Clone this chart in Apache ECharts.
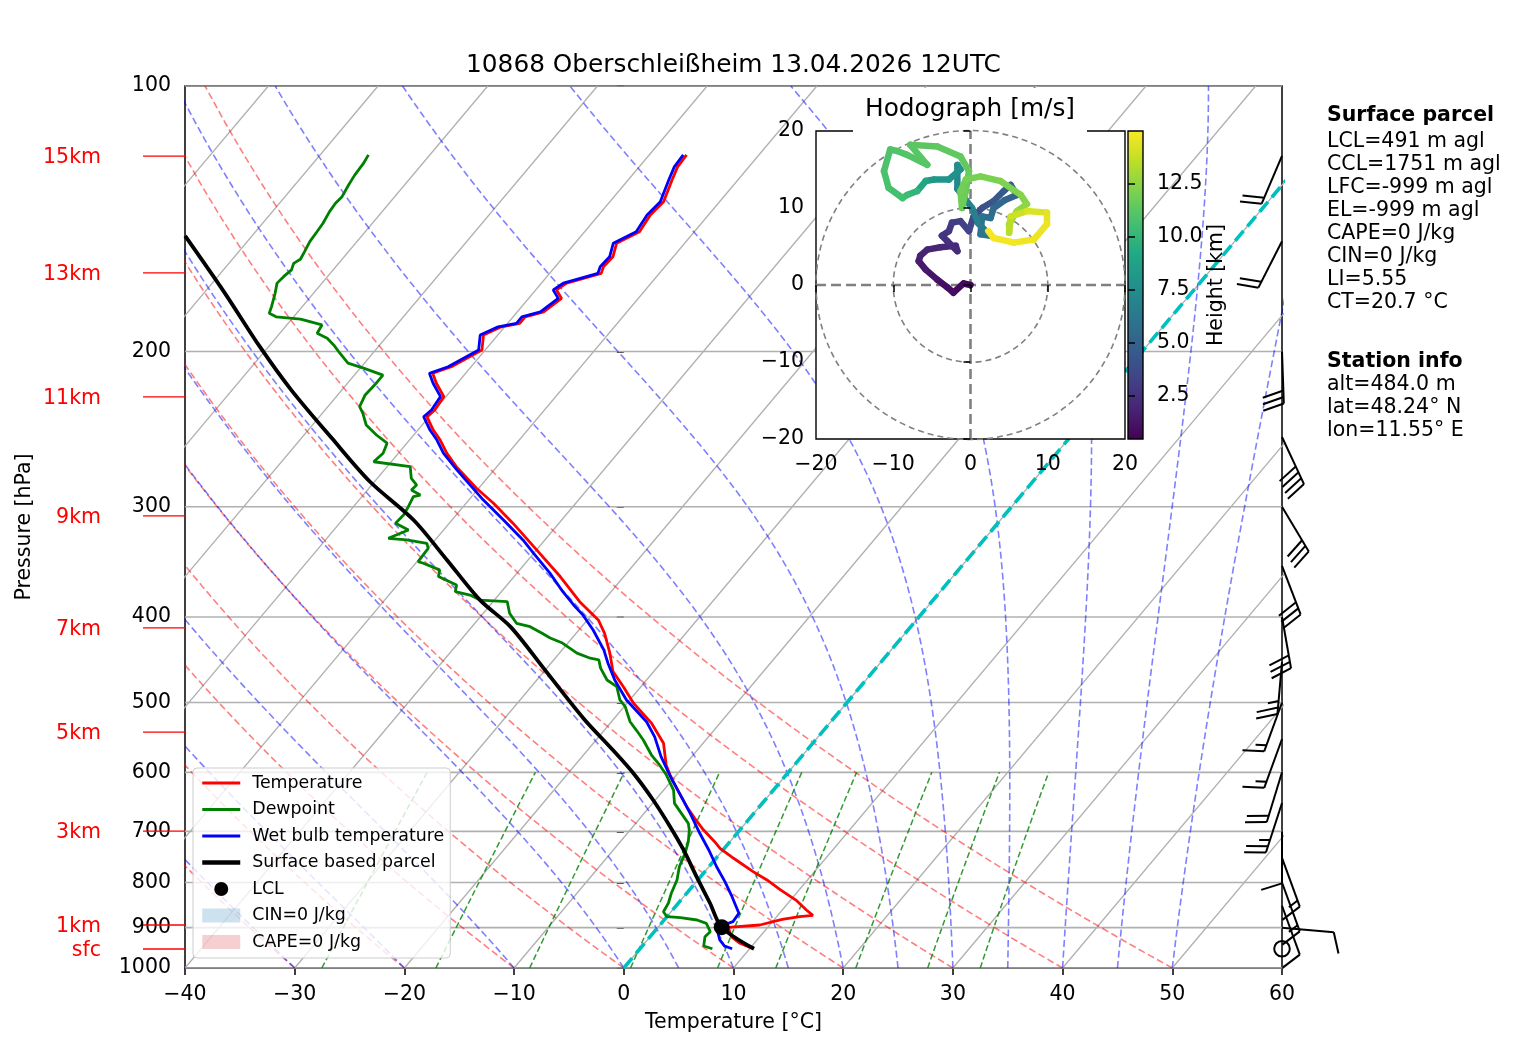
<!DOCTYPE html>
<html>
<head>
<meta charset="utf-8">
<script src="https://cdn.jsdelivr.net/npm/echarts@6/dist/echarts.min.js"></script>
<style>html,body{margin:0;padding:0;background:#fff}#main{width:1517px;height:1054px}</style>
</head>
<body>
<div id="main"></div>
<script>
/* Skew-T log-p sounding with hodograph inset */
var FONT = 'DejaVu Sans';
var chartDom = document.getElementById('main');
var myChart = echarts.init(chartDom);

// profiles: [pressure hPa, value degC]
var temperature = [[951,10.3],[937.6,8.7],[921.5,7.4],[899.2,6.4],[893.8,9.1],[880.6,10.7],[874.7,12.1],[871.5,13.2],[859.5,12.2],[838.8,10.6],[815.6,8.3],[794.6,6.3],[777.6,4.4],[750.9,1.6],[731.6,-0.4],[719.1,-1.4],[697.6,-3.3],[676.7,-5.0],[659.2,-6.4],[634.0,-8.3],[609.5,-10.2],[588.6,-11.7],[556.2,-13.6],[528.1,-16.2],[501.0,-19.4],[479.8,-21.6],[461.3,-23.7],[439.6,-25.4],[417.4,-27.4],[403.1,-29.0],[384.3,-32.1],[359.9,-35.8],[332.9,-40.5],[313.1,-44.2],[297.2,-47.5],[285.8,-50.2],[270.1,-53.7],[260.8,-55.6],[252.0,-57.2],[245.5,-58.6],[237.1,-60.2],[233.0,-60.0],[225.0,-60.2],[217.3,-61.9],[211.7,-63.0],[208.1,-61.8],[199.2,-60.3],[191.6,-61.3],[187.5,-60.3],[185.8,-58.9],[182.7,-58.9],[180.3,-57.6],[174.1,-57.0],[170.3,-58.1],[167.3,-57.7],[163.1,-55.3],[160.3,-55.6],[156.2,-55.5],[150.8,-56.2],[146.3,-55.0],[140.0,-55.3],[135.3,-55.1],[127.8,-56.0],[123.5,-56.5],[119.7,-56.6]];

var dewpoint = [[951,6.6],[944.2,5.6],[921.5,5.0],[909.6,5.1],[889.9,4.1],[882.2,3.0],[876.9,1.3],[874.7,0.0],[863.4,-0.7],[844.5,-0.9],[822.7,-1.4],[794.6,-1.9],[767.7,-2.7],[741.3,-3.2],[719.1,-3.8],[697.6,-4.6],[685.6,-5.2],[667.9,-6.6],[650.6,-8.0],[628.5,-9.1],[604.3,-10.9],[588.6,-12.3],[573.5,-13.8],[551.4,-15.7],[537.3,-17.1],[525.8,-18.3],[505.5,-19.9],[496.7,-20.9],[479.8,-22.2],[471.5,-23.6],[457.1,-25.1],[447.3,-25.9],[445.4,-26.8],[439.6,-28.4],[428.1,-30.5],[422.6,-32.0],[417.4,-33.1],[410.2,-34.7],[406.6,-36.2],[396.1,-37.6],[384.3,-38.7],[382.7,-41.3],[377.7,-42.6],[374.4,-44.2],[367.9,-44.6],[359.9,-46.9],[353.7,-47.3],[347.6,-49.3],[346.1,-49.9],[334.3,-50.0],[330.0,-50.5],[327.1,-52.6],[325.7,-54.4],[318.7,-53.2],[313.1,-54.9],[306.4,-54.8],[299.9,-55.0],[292.2,-55.3],[290.9,-54.8],[287.1,-56.0],[283.4,-55.9],[278.5,-56.9],[270.1,-57.9],[266.7,-61.6],[260.8,-61.4],[254.1,-61.8],[248.7,-63.4],[242.3,-65.1],[235.0,-66.3],[231.0,-67.1],[224.0,-67.5],[218.3,-67.4],[212.7,-67.4],[208.9,-69.7],[206.2,-71.5],[200.9,-73.0],[196.6,-74.2],[193.2,-75.3],[190.7,-76.6],[186.6,-76.8],[183.8,-79.2],[182.7,-81.6],[181.0,-82.5],[177.9,-82.8],[171.8,-83.5],[167.3,-84.1],[164.5,-84.0],[161.6,-83.8],[158.9,-84.1],[157.2,-83.8],[154.2,-84.0],[150.1,-84.3],[146.3,-84.4],[143.1,-84.5],[138.8,-84.8],[135.8,-84.9],[133.5,-84.8],[129.5,-85.1],[126.2,-85.3],[122.4,-85.4],[119.7,-85.6]];

var wetbulb = [[951,8.4],[944.2,7.5],[929.5,6.6],[905.6,5.6],[893.8,5.8],[886.0,6.4],[867.0,6.3],[830.1,4.4],[798.2,2.6],[767.7,0.7],[734.8,-1.3],[703.5,-3.4],[667.9,-5.8],[634.0,-8.3],[604.3,-10.6],[576.0,-12.8],[546.9,-14.9],[525.8,-16.8],[496.7,-20.3],[471.5,-22.9],[451.3,-24.8],[435.9,-26.2],[413.8,-28.7],[397.8,-30.8],[387.6,-32.4],[374.4,-34.4],[356.7,-37.0],[338.7,-40.0],[327.1,-42.0],[310.5,-45.3],[294.6,-48.7],[272.4,-53.4],[260.8,-55.9],[252.0,-57.5],[245.5,-58.9],[237.1,-60.5],[233.0,-60.3],[225.0,-60.5],[217.3,-62.2],[211.7,-63.3],[208.1,-62.1],[199.2,-60.6],[191.6,-61.6],[187.5,-60.6],[185.8,-59.2],[182.7,-59.2],[180.3,-57.9],[174.1,-57.3],[170.3,-58.4],[167.3,-58.0],[163.1,-55.6],[160.3,-55.9],[156.2,-55.8],[150.8,-56.5],[146.3,-55.3],[140.0,-55.6],[135.3,-55.4],[127.8,-56.3],[123.5,-56.8],[119.7,-56.9]];

var parcel = [[951,10.4],[899,5.8],[844.5,2.9],[788.1,-0.35],[734.8,-3.6],[691.6,-6.6],[645.0,-10.2],[601.5,-14.05],[566.1,-17.7],[521.2,-22.8],[457.1,-30.3],[410.2,-36.5],[382.7,-41.3],[344.6,-47.4],[310.5,-53.5],[281.0,-60.4],[250.9,-67.2],[221.2,-74.6],[197.5,-80.8],[171.7,-88.1],[147.9,-96.1]];

var lcl = [[899,5.8]];

// wind barbs: [pressure hPa, direction deg, speed kt]
var barbs = [[951,0,0],[900,95,10],[850,160,10],[800,160,15],[750,160,15],[700,180,10],[650,198,25],[600,197,20],[550,200,15],[500,200,15],[450,185,25],[400,170,30],[350,159,30],[300,149,30],[250,155,40],[200,178,30],[150,207,20],[120,203,20]];

// hodograph: [u m/s, v m/s, height km]
var hodograph = [[0,0,0.5],[-0.9,0.2,0.7],[-2.2,-1.0,0.9],[-3.0,-0.3,1.0],[-4.3,0.7,1.2],[-5.8,2.0,1.4],[-6.7,3.1,1.6],[-6.5,3.8,1.7],[-5.6,4.6,1.9],[-3.9,4.9,2.0],[-1.9,5.1,2.2],[-1.7,4.4,2.3],[-3.0,5.7,2.4],[-3.7,6.4,2.6],[-2.8,7.0,2.8],[-2.4,8.1,3.0],[-1.3,8.3,3.2],[-0.2,7.0,3.4],[0.4,8.9,3.7],[1.5,10.0,4.0],[3.0,10.9,4.3],[4.3,12.2,4.6],[5.2,13.0,4.8],[6.0,11.7,5.0],[4.4,11.0,5.2],[3.0,10.0,5.4],[2.6,8.7,5.6],[1.5,8.9,5.8],[1.3,6.6,6.0],[2.6,6.4,6.2],[1.0,8.0,6.5],[0.2,10.0,6.8],[-1.7,12.5,7.1],[-1.7,15.6,7.4],[-1.3,15.0,7.6],[-2.8,13.7,7.8],[-4.7,13.7,8.1],[-5.8,13.5,8.4],[-6.9,12.2,9.6],[-8.2,11.7,10.2],[-8.8,11.3,10.5],[-10.6,12.6,10.7],[-11.2,14.8,10.8],[-10.4,17.6,10.9],[-9.5,17.4,11.0],[-8.2,16.9,11.0],[-5.6,15.6,11.1],[-7.8,18.2,11.2],[-4.3,18.0,11.3],[-1.3,16.7,11.4],[-0.2,14.8,11.5],[-0.6,12.2,11.6],[-1.1,10.0,11.7],[-1.3,12.2,11.8],[-0.6,13.7,11.9],[1.3,14.1,12.0],[3.9,13.5,12.1],[6.5,11.7,12.2],[7.3,10.5,12.4],[6.0,9.6,12.7],[5.0,7.9,13.0],[5.0,6.8,13.3],[5.2,8.9,13.6],[7.3,9.6,14.0],[9.9,9.4,14.3],[9.9,7.9,14.5],[8.2,5.9,14.6],[5.6,5.5,14.7],[3.0,6.1,14.8],[2.3,7.0,14.9]];
var heightMin = 0.48, heightMax = 14.96;

// reference lines
var isothermT = [-100,-90,-80,-70,-60,-50,-40,-30,-20,-10,0,10,20,30,40,50,60];
var isobarP = [100,200,300,400,500,600,700,800,900,1000];
var dryAdiabatT0 = [-40,-30,-20,-10,0,10,20,30,40,50];
var moistAdiabatT0 = [-40,-30,-20,-10,0,5,10,15,20,25,30,35,40,45,50];
var mixingRatios = [0.0004,0.001,0.002,0.004,0.007,0.01,0.016,0.024,0.032];
var hodoRings = [10, 20];
var kmLevels = [['sfc',951.6],['1km',893.8],['3km',699.4],['5km',540.1],['7km',411.6],['9km',307.2],['11km',225.2],['13km',162.9],['15km',120.1]];
var colorbarTicks = [2.5,5,7.5,10,12.5];

var parcelText = ['LCL=491 m agl','CCL=1751 m agl','LFC=-999 m agl','EL=-999 m agl','CAPE=0 J/kg','CIN=0 J/kg','LI=5.55','CT=20.7 \u00b0C'];
var stationText = ['alt=484.0 m','lat=48.24\u00b0 N','lon=11.55\u00b0 E'];

var viridis = ['#440154','#482475','#414487','#355f8d','#2a788e','#21918c','#22a884','#44bf70','#7ad151','#bddf26','#fde725'];

// skew transform
var SKEW = 67.6;
function sx(t, p) { return t + SKEW * Math.log10(1000 / p); }
function ly(p) { return Math.log10(p); }
function minus(v) { return v < 0 ? '\u2212' + Math.abs(v) : String(v); }

var Rd = 287.04749, Cp = 1004.6662, Lv = 2.50084e6, EPS = 0.621957;
function satVap(tK) { return 6.112 * Math.exp(17.67 * (tK - 273.15) / (tK - 29.65)); }
function moistLapse(p, tK) {
  var es = satVap(tK);
  var rs = EPS * es / (p - es);
  return (Rd * tK + Lv * rs) / (Cp + Lv * Lv * rs * EPS / (Rd * tK * tK)) / p;
}

function refLine(pts, color, width, dash, z) {
  return {
    type: 'line', xAxisIndex: 0, yAxisIndex: 0, data: pts, symbol: 'none', silent: true,
    lineStyle: { color: color, width: width, type: dash }, z: z
  };
}
function profile(rows) {
  return rows.map(function (d) { return [sx(d[1], d[0]), ly(d[0])]; });
}

var series = [];

isothermT.forEach(function (t) {
  series.push(refLine([[sx(t, 1000), ly(1000)], [sx(t, 100), ly(100)]], '#b0b0b0', 1.3, 'solid', 1));
});
isobarP.forEach(function (p) {
  series.push(refLine([[-40, ly(p)], [60, ly(p)]], '#b0b0b0', 1.6, 'solid', 1));
});
dryAdiabatT0.forEach(function (t0) {
  var pts = [];
  for (var p = 1000; p >= 100; p -= 10) {
    var t = (t0 + 273.15) * Math.pow(p / 1000, Rd / Cp) - 273.15;
    pts.push([sx(t, p), ly(p)]);
  }
  series.push(refLine(pts, 'rgba(255,0,0,0.5)', 1.6, [7, 3.5], 1));
});
moistAdiabatT0.forEach(function (t0) {
  var tK = t0 + 273.15, p = 1000, dp = -5;
  var pts = [[sx(t0, p), ly(p)]];
  while (p > 100.001) {
    var k1 = moistLapse(p, tK);
    var k2 = moistLapse(p + dp / 2, tK + dp / 2 * k1);
    var k3 = moistLapse(p + dp / 2, tK + dp / 2 * k2);
    var k4 = moistLapse(p + dp, tK + dp * k3);
    tK += dp / 6 * (k1 + 2 * k2 + 2 * k3 + k4);
    p += dp;
    pts.push([sx(tK - 273.15, p), ly(p)]);
  }
  series.push(refLine(pts, 'rgba(0,0,255,0.5)', 1.6, [7, 3.5], 1));
});
mixingRatios.forEach(function (w) {
  var pts = [];
  for (var p = 1000; p >= 600; p -= 10) {
    var e = p * w / (EPS + w);
    var l = Math.log(e / 6.112);
    var td = 243.5 * l / (17.67 - l);
    pts.push([sx(td, p), ly(p)]);
  }
  series.push(refLine(pts, 'rgba(0,128,0,0.8)', 1.5, [6, 3], 1));
});
series.push(refLine([[sx(0, 1000), ly(1000)], [sx(0, 100), ly(100)]], '#00bfbf', 3.6, [13, 6], 2));

series.push({
  name: 'Temperature', type: 'line', data: profile(temperature), symbol: 'none', silent: true,
  lineStyle: { color: '#ff0000', width: 2.8 }, itemStyle: { color: '#ff0000' }, z: 3
});
series.push({
  name: 'Dewpoint', type: 'line', data: profile(dewpoint), symbol: 'none', silent: true,
  lineStyle: { color: '#008000', width: 2.8 }, itemStyle: { color: '#008000' }, z: 3
});
series.push({
  name: 'Wet bulb temperature', type: 'line', data: profile(wetbulb), symbol: 'none', silent: true,
  lineStyle: { color: '#0000ff', width: 2.8 }, itemStyle: { color: '#0000ff' }, z: 3
});
series.push({
  name: 'Surface based parcel', type: 'line', data: profile(parcel), symbol: 'none', silent: true, smooth: 0.3,
  lineStyle: { color: '#000', width: 3.8 }, itemStyle: { color: '#000' }, z: 3
});
series.push({
  name: 'LCL', type: 'scatter', data: profile(lcl), symbol: 'circle', symbolSize: 16, symbolKeepAspect: true,
  silent: true, itemStyle: { color: '#000', opacity: 1 }, z: 4
});
series.push({ name: 'CIN=0 J/kg', type: 'line', data: [], itemStyle: { color: 'rgba(31,119,180,0.22)' }, lineStyle: { color: 'rgba(31,119,180,0.22)' } });
series.push({ name: 'CAPE=0 J/kg', type: 'line', data: [], itemStyle: { color: 'rgba(214,39,40,0.22)' }, lineStyle: { color: 'rgba(214,39,40,0.22)' } });

// wind barbs along the right edge
series.push({
  type: 'custom', xAxisIndex: 0, yAxisIndex: 0, z: 3, silent: true, clip: false,
  data: barbs.map(function (b) { return [60, ly(b[0]), b[1], b[2]]; }),
  renderItem: function (params, api) {
    var base = api.coord([api.value(0), api.value(1)]);
    var dir = api.value(2) * Math.PI / 180;
    var spd = Math.round(api.value(3) / 5) * 5;
    var L = 52, H = 0.4 * L, SP = 0.125 * L, W = 0.125 * L;
    var st = { stroke: '#000', lineWidth: 2, fill: null };
    if (spd < 5) {
      return { type: 'circle', shape: { cx: base[0], cy: base[1], r: 0.15 * L }, style: st };
    }
    var dx = Math.sin(dir), dy = -Math.cos(dir);
    var px = -dy, py = dx;
    var kids = [{ type: 'line', shape: { x1: base[0], y1: base[1], x2: base[0] + dx * L, y2: base[1] + dy * L }, style: st }];
    var full = Math.floor(spd / 10), half = spd % 10 >= 5;
    var d = L;
    if (full === 0 && half) d -= SP;
    function feather(dd, h, w) {
      var x0 = base[0] + dx * dd, y0 = base[1] + dy * dd;
      kids.push({ type: 'line', shape: { x1: x0, y1: y0, x2: x0 + dx * w + px * h, y2: y0 + dy * w + py * h }, style: st });
    }
    for (var i = 0; i < full; i++) { feather(d, H, W); d -= SP; }
    if (half) feather(d, H / 2, W / 2);
    return { type: 'group', children: kids };
  }
});

// height labels on the left
series.push({
  type: 'custom', xAxisIndex: 0, yAxisIndex: 0, z: 3, silent: true, clip: false,
  data: kmLevels.map(function (k, i) { return [-40, ly(k[1]), i]; }),
  renderItem: function (params, api) {
    var pt = api.coord([api.value(0), api.value(1)]);
    return {
      type: 'group', children: [
        { type: 'line', shape: { x1: pt[0] - 42, y1: pt[1], x2: pt[0], y2: pt[1] }, style: { stroke: '#ff0000', lineWidth: 1.3 } },
        { type: 'text', x: pt[0] - 84, y: pt[1] + 2, style: { text: kmLevels[api.value(2)][0], fill: '#ff0000', fontSize: 20.5, fontFamily: FONT, align: 'right', verticalAlign: 'middle' } }
      ]
    };
  }
});

// hodograph inset
series.push({
  type: 'custom', xAxisIndex: 1, yAxisIndex: 1, z: 7, silent: true,
  data: [[-20, 20, 20, -20]],
  renderItem: function (params, api) {
    var a = api.coord([api.value(0), api.value(1)]);
    var b = api.coord([api.value(2), api.value(3)]);
    return { type: 'rect', shape: { x: a[0], y: a[1], width: b[0] - a[0], height: b[1] - a[1] }, style: { fill: '#fff', stroke: '#000', lineWidth: 1.4 } };
  }
});
series.push({
  type: 'custom', xAxisIndex: 1, yAxisIndex: 1, z: 9, silent: true,
  data: hodoRings.map(function (r) { return [0, 0, r]; }),
  renderItem: function (params, api) {
    var c = api.coord([api.value(0), api.value(1)]);
    var r = api.size([api.value(2), 0])[0];
    return { type: 'circle', shape: { cx: c[0], cy: c[1], r: r }, style: { fill: null, stroke: '#808080', lineWidth: 1.6, lineDash: [6, 4] } };
  }
});
series.push({
  type: 'line', xAxisIndex: 1, yAxisIndex: 1, data: [[-20, 0], [20, 0]], symbol: 'none', silent: true,
  lineStyle: { color: '#808080', width: 2.6, type: [10, 5] }, z: 9
});
series.push({
  type: 'line', xAxisIndex: 1, yAxisIndex: 1, data: [[0, -20], [0, 20]], symbol: 'none', silent: true,
  lineStyle: { color: '#808080', width: 2.6, type: [10, 5] }, z: 9
});
var hodoIndex = series.length;
var hodoSegs = [];
for (var i = 0; i < hodograph.length - 1; i++) {
  hodoSegs.push([hodograph[i][0], hodograph[i][1], hodograph[i + 1][0], hodograph[i + 1][1], (hodograph[i][2] + hodograph[i + 1][2]) / 2]);
}
series.push({
  type: 'custom', xAxisIndex: 1, yAxisIndex: 1, z: 10, silent: true,
  data: hodoSegs,
  renderItem: function (params, api) {
    var a = api.coord([api.value(0), api.value(1)]);
    var b = api.coord([api.value(2), api.value(3)]);
    return { type: 'line', shape: { x1: a[0], y1: a[1], x2: b[0], y2: b[1] }, style: { stroke: api.visual('color'), lineWidth: 6.5, lineCap: 'round' } };
  }
});

// colorbar
series.push({
  type: 'custom', xAxisIndex: 2, yAxisIndex: 2, z: 7, silent: true,
  data: [[0, heightMax, 1, heightMin]],
  renderItem: function (params, api) {
    var a = api.coord([api.value(0), api.value(1)]);
    var b = api.coord([api.value(2), api.value(3)]);
    var stops = viridis.map(function (c, k) { return { offset: 1 - k / (viridis.length - 1), color: c }; }).reverse();
    return {
      type: 'rect', shape: { x: a[0], y: a[1], width: b[0] - a[0], height: b[1] - a[1] },
      style: { fill: { type: 'linear', x: 0, y: 0, x2: 0, y2: 1, colorStops: stops }, stroke: '#000', lineWidth: 1.4 }
    };
  }
});

var tickFont = { fontSize: 20.5, color: '#000', fontFamily: FONT };
var yTickFont = { fontSize: 20.5, color: '#000', fontFamily: FONT, padding: [5, 0, 0, 0] };
var hideDot = { opacity: 0 };

var option = {
  animation: false,
  textStyle: { fontFamily: FONT },
  grid: [
    { left: 185, top: 86, width: 1097, height: 882, show: true, borderColor: '#000', borderWidth: 1.5, backgroundColor: 'transparent' },
    { left: 816, top: 131, width: 309, height: 308 },
    { left: 1128, top: 131, width: 15, height: 308 }
  ],
  xAxis: [
    {
      gridIndex: 0, type: 'value', min: -40, max: 60, interval: 10,
      axisLine: { show: false }, splitLine: { show: false },
      axisTick: { show: true, inside: false, length: 7, lineStyle: { color: '#000', width: 1.5 } },
      axisLabel: Object.assign({ margin: 16, formatter: minus }, tickFont),
      name: 'Temperature [\u00b0C]', nameLocation: 'middle', nameGap: 44, nameTextStyle: tickFont
    },
    {
      gridIndex: 1, type: 'value', min: -20, max: 20, interval: 10, z: 11,
      axisLine: { show: false }, splitLine: { show: false },
      axisTick: { show: true, inside: false, length: 7, lineStyle: { color: '#000', width: 1.5 } },
      axisLabel: Object.assign({ margin: 15, formatter: minus }, tickFont)
    },
    { gridIndex: 2, type: 'value', min: 0, max: 1, show: false }
  ],
  yAxis: [
    {
      gridIndex: 0, type: 'value', min: 2, max: 3, inverse: true,
      axisLine: { show: false }, splitLine: { show: false },
      axisTick: { show: true, inside: false, length: 7, lineStyle: { color: '#000', width: 1.5 }, customValues: isobarP.map(ly) },
      axisLabel: Object.assign({ margin: 14, customValues: isobarP.map(ly), formatter: function (v) { return String(Math.round(Math.pow(10, v))); } }, yTickFont),
      name: 'Pressure [hPa]', nameLocation: 'middle', nameGap: 150, nameRotate: 90, nameTextStyle: tickFont
    },
    {
      gridIndex: 1, type: 'value', min: -20, max: 20, interval: 10, z: 11,
      axisLine: { show: false }, splitLine: { show: false },
      axisTick: { show: true, inside: false, length: 7, lineStyle: { color: '#000', width: 1.5 } },
      axisLabel: Object.assign({ margin: 12, formatter: minus }, yTickFont)
    },
    {
      gridIndex: 2, type: 'value', min: heightMin, max: heightMax, position: 'right', z: 11,
      axisLine: { show: false }, splitLine: { show: false },
      axisTick: { show: true, inside: false, length: 7, lineStyle: { color: '#000', width: 1.5 }, customValues: colorbarTicks },
      axisLabel: Object.assign({ margin: 14, customValues: colorbarTicks, formatter: function (v) { return v.toFixed(1); } }, yTickFont),
      name: 'Height [km]', nameLocation: 'middle', nameGap: 52, nameRotate: 90, nameTextStyle: tickFont
    }
  ],
  visualMap: [{
    type: 'continuous', show: false, seriesIndex: hodoIndex, dimension: 4,
    min: heightMin, max: heightMax, inRange: { color: viridis }
  }],
  legend: {
    left: 193, top: 768, orient: 'vertical', selectedMode: false,
    data: [
      { name: 'Temperature', itemStyle: hideDot, lineStyle: { width: 3 } },
      { name: 'Dewpoint', itemStyle: hideDot, lineStyle: { width: 3 } },
      { name: 'Wet bulb temperature', itemStyle: hideDot, lineStyle: { width: 3 } },
      { name: 'Surface based parcel', itemStyle: hideDot, lineStyle: { width: 4.5 } },
      'LCL',
      { name: 'CIN=0 J/kg', icon: 'rect' }, { name: 'CAPE=0 J/kg', icon: 'rect' }],
    itemWidth: 38, itemHeight: 14, itemGap: 6.5,
    textStyle: { fontSize: 17.4, color: '#000', fontFamily: FONT, lineHeight: 20, padding: [0, 0, 0, 7] },
    backgroundColor: 'rgba(255,255,255,0.8)', borderColor: '#cccccc', borderWidth: 1, borderRadius: 4,
    padding: [5, 6, 6, 7]
  },
  graphic: [
    { type: 'text', x: 733.5, y: 66, z: 12, style: { text: '10868 Oberschlei\u00dfheim 13.04.2026 12UTC', fill: '#000', fontSize: 24.8, fontFamily: FONT, align: 'center', verticalAlign: 'middle' } },
    { type: 'rect', z: 8, shape: { x: 853, y: 88, width: 234, height: 45 }, style: { fill: '#fff' } },
    { type: 'text', x: 970, y: 110, z: 12, style: { text: 'Hodograph [m/s]', fill: '#000', fontSize: 24.8, fontFamily: FONT, align: 'center', verticalAlign: 'middle' } },
    { type: 'text', x: 1327, y: 116, z: 12, style: { text: 'Surface parcel', fill: '#000', fontSize: 20.5, fontWeight: 'bold', fontFamily: FONT, align: 'left', verticalAlign: 'middle' } },
    { type: 'text', x: 1327, y: 130.5, z: 12, style: { text: parcelText.join('\n'), fill: '#000', fontSize: 20.5, lineHeight: 23, fontFamily: FONT, align: 'left', verticalAlign: 'top' } },
    { type: 'text', x: 1327, y: 362, z: 12, style: { text: 'Station info', fill: '#000', fontSize: 20.5, fontWeight: 'bold', fontFamily: FONT, align: 'left', verticalAlign: 'middle' } },
    { type: 'text', x: 1327, y: 373.5, z: 12, style: { text: stationText.join('\n'), fill: '#000', fontSize: 20.5, lineHeight: 23, fontFamily: FONT, align: 'left', verticalAlign: 'top' } }
  ],
  series: series
};

myChart.setOption(option);

window.onresize = function () {
  myChart.resize();
};
</script>
</body>
</html>
